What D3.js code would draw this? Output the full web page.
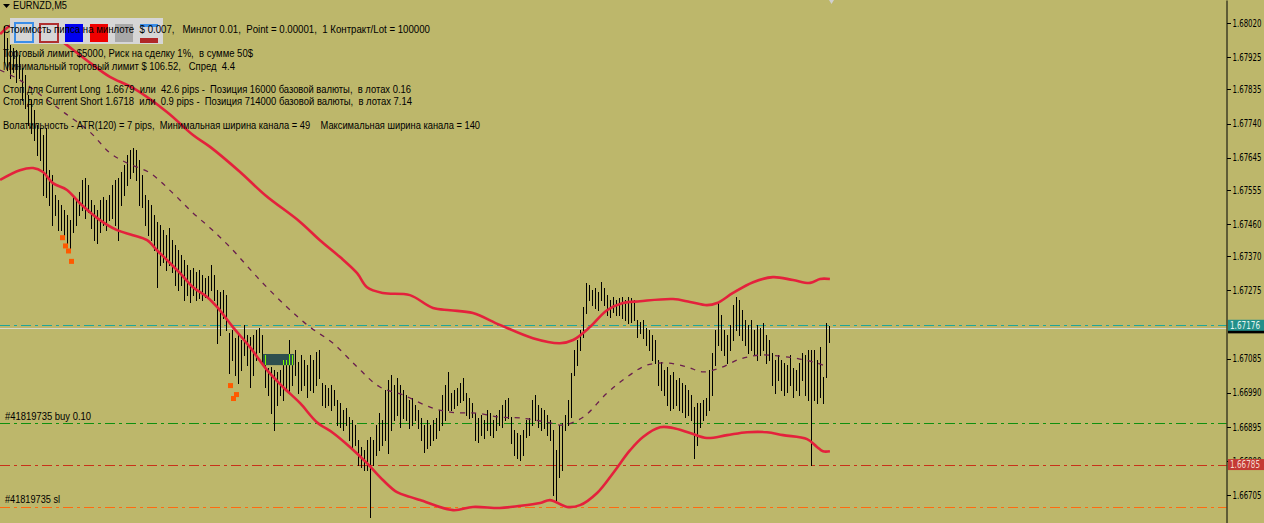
<!DOCTYPE html>
<html><head><meta charset="utf-8">
<script src="https://cdn.jsdelivr.net/npm/d3@7"></script>
<style>html,body{margin:0;padding:0;background:#bdb76b;overflow:hidden}</style>
</head><body><svg id="c" width="1264" height="523"></svg>
<script>
// ---------- DATA ----------
const symbol = "EURNZD,M5";
const highs = [1.68012,1.67978,1.67959,1.67950,1.67945,1.67931,1.67895,1.67875,1.67819,1.67805,
1.67778,1.67736,1.67727,1.67708,1.67727,1.67610,1.67596,1.67541,1.67527,1.67513,
1.67499,1.67485,1.67471,1.67541,1.67527,1.67549,1.67583,1.67588,1.67569,1.67527,
1.67513,1.67499,1.67527,1.67535,1.67527,1.67541,1.67569,1.67583,1.67588,1.67605,
1.67624,1.67652,1.67666,1.67672,1.67666,1.67638,1.67596,1.67541,1.67527,1.67513,
1.67485,1.67466,1.67457,1.67443,1.67429,1.67449,1.67415,1.67401,1.67387,1.67374,
1.67360,1.67346,1.67332,1.67337,1.67326,1.67332,1.67318,1.67310,1.67315,1.67346,
1.67318,1.67276,1.67271,1.67276,1.67262,1.67156,1.67165,1.67142,1.67151,1.67137,
1.67179,1.67151,1.67145,1.67151,1.67165,1.67170,1.67151,1.67095,1.67059,1.67062,
1.67053,1.67048,1.67053,1.67081,1.67081,1.67137,1.67095,1.67109,1.67076,1.67095,
1.67081,1.67067,1.67095,1.67081,1.67103,1.67109,1.67017,1.67011,1.67003,1.67011,
1.66998,1.66970,1.66961,1.66942,1.66947,1.66922,1.66914,1.66900,1.66858,1.66839,
1.66830,1.66858,1.66867,1.66858,1.66900,1.66933,1.66914,1.66998,1.67025,1.67039,
1.67011,1.67031,1.67011,1.66998,1.66984,1.66970,1.66975,1.66956,1.66942,1.66920,
1.66900,1.66914,1.66900,1.66914,1.66920,1.66942,1.66984,1.67011,1.67048,1.66989,
1.66998,1.67003,1.67017,1.67031,1.66989,1.66975,1.66961,1.66933,1.66920,1.66928,
1.66914,1.66942,1.66933,1.66914,1.66928,1.66942,1.66956,1.66970,1.66975,1.66922,
1.66886,1.66878,1.66872,1.66886,1.66914,1.66920,1.66970,1.66984,1.66956,1.66947,
1.66942,1.66928,1.66914,1.66886,1.66830,1.66900,1.66906,1.66928,1.66970,1.67045,
1.67109,1.67137,1.67165,1.67229,1.67296,1.67290,1.67276,1.67282,1.67271,1.67298,
1.67282,1.67262,1.67248,1.67257,1.67248,1.67254,1.67257,1.67248,1.67257,1.67254,
1.67248,1.67193,1.67187,1.67193,1.67170,1.67165,1.67151,1.67137,1.67081,1.67076,
1.67053,1.67062,1.67039,1.67048,1.67025,1.67031,1.67017,1.67011,1.66998,1.66984,
1.66950,1.66961,1.66961,1.66970,1.66975,1.67053,1.67101,1.67165,1.67240,1.67206,
1.67165,1.67151,1.67179,1.67234,1.67257,1.67248,1.67220,1.67193,1.67179,1.67193,
1.67165,1.67179,1.67170,1.67184,1.67151,1.67137,1.67101,1.67081,1.67095,1.67081,
1.67073,1.67067,1.67095,1.67059,1.67053,1.67073,1.67101,1.67095,1.67109,1.67109,
1.67109,1.67081,1.67117,1.67034,1.67184,1.67176];
const lows = [1.67911,1.67889,1.67867,1.67883,1.67856,1.67867,1.67805,1.67783,1.67736,1.67713,
1.67694,1.67652,1.67638,1.67541,1.67535,1.67513,1.67457,1.67485,1.67443,1.67443,
1.67429,1.67401,1.67387,1.67438,1.67457,1.67485,1.67499,1.67477,1.67493,1.67449,
1.67415,1.67407,1.67438,1.67457,1.67443,1.67471,1.67477,1.67457,1.67415,1.67513,
1.67541,1.67569,1.67588,1.67605,1.67583,1.67513,1.67507,1.67457,1.67429,1.67415,
1.67387,1.67284,1.67346,1.67354,1.67332,1.67346,1.67326,1.67290,1.67276,1.67290,
1.67248,1.67262,1.67243,1.67262,1.67248,1.67254,1.67248,1.67257,1.67254,1.67276,
1.67248,1.67128,1.67151,1.67198,1.67165,1.67045,1.67081,1.67039,1.67017,1.67053,
1.67095,1.67067,1.67006,1.67039,1.67081,1.67103,1.67073,1.67006,1.66984,1.66933,
1.66886,1.66956,1.66984,1.66970,1.66998,1.66989,1.67011,1.67039,1.66989,1.66998,
1.67011,1.66978,1.66998,1.66992,1.67011,1.67031,1.66956,1.66950,1.66956,1.66942,
1.66956,1.66900,1.66894,1.66886,1.66900,1.66858,1.66839,1.66844,1.66789,1.66783,
1.66775,1.66775,1.66644,1.66789,1.66816,1.66830,1.66844,1.66858,1.66822,1.66886,
1.66914,1.66928,1.66894,1.66920,1.66914,1.66892,1.66900,1.66914,1.66892,1.66858,
1.66825,1.66836,1.66844,1.66858,1.66864,1.66886,1.66900,1.66914,1.66942,1.66942,
1.66947,1.66956,1.66964,1.66970,1.66928,1.66920,1.66922,1.66858,1.66853,1.66872,
1.66864,1.66886,1.66872,1.66867,1.66886,1.66900,1.66894,1.66914,1.66920,1.66850,
1.66816,1.66808,1.66802,1.66816,1.66867,1.66872,1.66900,1.66914,1.66894,1.66886,
1.66892,1.66872,1.66858,1.66705,1.66691,1.66755,1.66775,1.66886,1.66900,1.66922,
1.67039,1.67067,1.67109,1.67145,1.67212,1.67248,1.67234,1.67226,1.67220,1.67248,
1.67234,1.67206,1.67201,1.67215,1.67206,1.67206,1.67198,1.67193,1.67184,1.67187,
1.67193,1.67145,1.67156,1.67142,1.67123,1.67109,1.67081,1.67073,1.67011,1.66998,
1.66984,1.66956,1.66942,1.66947,1.66956,1.66942,1.66936,1.66922,1.66928,1.66914,
1.66808,1.66844,1.66894,1.66914,1.66928,1.66942,1.66984,1.67067,1.67123,1.67109,
1.67095,1.67073,1.67109,1.67137,1.67165,1.67151,1.67137,1.67123,1.67101,1.67109,
1.67095,1.67081,1.67095,1.67109,1.67073,1.67081,1.67011,1.66989,1.67025,1.66998,
1.66984,1.66992,1.67011,1.66978,1.66998,1.66984,1.67025,1.66984,1.66970,1.66789,
1.66970,1.66961,1.66978,1.66961,1.67034,1.67131];

// channel indicator (bar index, price)
const upperBand = [[-1.3,1.67989],[2,1.68012],[7,1.68026],[12,1.68014],[18.7,1.67973],[28.7,1.67909],
[35.3,1.67870],[43,1.67839],[54.3,1.67772],[63,1.67708],[68.7,1.67675],[78.7,1.67605],[87,1.67541],
[98.7,1.67466],[105.3,1.67415],[112,1.67368],[117.7,1.67323],[121,1.67284],[126.3,1.67268],
[135.3,1.67262],[143,1.67226],[148.7,1.67220],[156.3,1.67212],[165.3,1.67179],[176.3,1.67142],
[185.3,1.67128],[189.7,1.67137],[195.3,1.67173],[201,1.67220],[206.3,1.67240],[212,1.67245],
[223,1.67251],[228.7,1.67243],[234.3,1.67234],[237.7,1.67240],[243,1.67268],[249.7,1.67298],
[256.3,1.67312],[263,1.67304],[268.7,1.67296],[272,1.67307],[275.3,1.67307]];
const lowerBand = [[-1.3,1.67583],[5.3,1.67610],[9.7,1.67616],[13,1.67605],[16.3,1.67574],[21,1.67555],
[25.3,1.67518],[32,1.67471],[37.7,1.67443],[43,1.67429],[47.7,1.67415],[51,1.67387],[54.3,1.67360],
[58.7,1.67323],[63,1.67284],[67.7,1.67257],[71,1.67229],[76.3,1.67173],[82,1.67117],[87.7,1.67053],
[93,1.67006],[98.7,1.66961],[104.3,1.66908],[109.7,1.66878],[115.3,1.66839],[121,1.66794],
[126.3,1.66747],[131,1.66713],[135.3,1.66700],[138.7,1.66691],[149.7,1.66663],[156.3,1.66672],
[165.3,1.66669],[171,1.66674],[178.7,1.66683],[182,1.66691],[187.7,1.66672],[192,1.66677],
[197.7,1.66711],[203,1.66766],[208.7,1.66830],[213,1.66867],[218.7,1.66894],[223,1.66892],
[228.7,1.66878],[234.3,1.66864],[241,1.66872],[247.7,1.66880],[254.3,1.66880],[259.7,1.66872],
[267.7,1.66861],[271,1.66839],[273,1.66827],[275.3,1.66827]];
const middleLine = [[-1.3,1.67889],[5.3,1.67861],[15.3,1.67800],[20.3,1.67769],[28.7,1.67716],
[35.3,1.67658],[41,1.67630],[48.7,1.67602],[56.3,1.67546],[63,1.67491],[68.7,1.67449],[75.3,1.67396],
[85.3,1.67304],[94.3,1.67229],[102,1.67173],[109.7,1.67128],[117.7,1.67062],[125.3,1.67006],
[133,1.66984],[142,1.66950],[148.7,1.66936],[157.7,1.66933],[165.3,1.66922],[172,1.66920],
[181,1.66908],[186.3,1.66900],[193,1.66922],[201,1.66989],[207.7,1.67034],[214.3,1.67067],
[221,1.67073],[227.7,1.67062],[233,1.67048],[238.7,1.67059],[245.3,1.67084],[252,1.67095],
[258.7,1.67092],[265.3,1.67084],[271,1.67073],[274.3,1.67062]];

// signal markers
const markerBars = [19,20,21,22,75,76,77];
const markerPrices = [1.67422,1.67399,1.67385,1.67356,1.67010,1.66974,1.66985];

// rectangle object
const rectBars = [86.3, 96.7];
const rectPrices = [1.67098, 1.67067];

// horizontal levels
const levelNames = ["bid","ask","buy","stop","sl"];
const levelPrices = [1.67178, 1.67171, 1.66905, 1.66790, 1.66673];
const orderLabels = ["#41819735 buy 0.10", "#41819735 sl"];
const bidLabel = "1.67176";
const stopLabel = "1.66785";

// axis ticks (1.67180 lies under the bid label)
const tickValues = [1.68020,1.67925,1.67835,1.67740,1.67645,1.67555,1.67460,1.67370,1.67275,
1.67085,1.66990,1.66895,1.66800,1.66705];

// comment lines
const commentLines = [
 "Стоимость пипса на минлоте  $ 0.007,   Минлот 0.01,  Point = 0.00001,  1 Контракт/Lot = 100000",
 "Торговый лимит $5000, Риск на сделку 1%,  в сумме 50$",
 "Минимальный торговый лимит $ 106.52,   Спред  4.4",
 "Стоп для Current Long  1.6679  или  42.6 pips -  Позиция 16000 базовой валюты,  в лотах 0.16",
 "Стоп для Current Short 1.6718  или  0.9 pips -  Позиция 714000 базовой валюты,  в лотах 7.14",
 "Волатильность - ATR(120) = 7 pips,  Минимальная ширина канала = 49    Максимальная ширина канала = 140"
];

// ---------- DRAW ----------
const W = 1264, H = 523, axisX = 1226.5;
const svg = d3.select("#c");
const FONT = "'Liberation Sans', Arial, sans-serif";
const NARROW = "'Liberation Sans Narrow', 'DejaVu Sans Condensed', 'Liberation Sans', sans-serif";
svg.append("rect").attr("width", W).attr("height", H).attr("fill", "#bdb76b");

const pxPerPrice = 35900;
const y = d3.scaleLinear()
  .domain([1.68020 - (H - 23) / pxPerPrice, 1.68020 + 23 / pxPerPrice])
  .range([H, 0]);
const x = d3.scaleLinear().domain([0, highs.length - 1]).range([4, 829]);

// levels
const levelStyle = {
  bid:  {c:"#1fa59a", dash:"10,4,3,4"},
  ask:  {c:"#d8d8cc", dash:null},
  buy:  {c:"#10900f", dash:"10,4,3,4"},
  stop: {c:"#c8321a", dash:"10,4,3,4"},
  sl:   {c:"#ff6a10", dash:"10,4,3,4"}
};
levelNames.forEach((n, i) => {
  const yy = Math.round(y(levelPrices[i])) + 0.5;
  svg.append("line").attr("x1", 0).attr("x2", axisX).attr("y1", yy).attr("y2", yy)
    .attr("stroke", levelStyle[n].c).attr("stroke-width", 1.2)
    .attr("stroke-dasharray", levelStyle[n].dash);
});

// rectangle object
const rx0 = x(rectBars[0]), rx1 = x(rectBars[1]);
const ry0 = y(rectPrices[0]), ry1 = y(rectPrices[1]);
svg.append("rect").attr("x", rx0).attr("y", ry0).attr("width", rx1 - rx0).attr("height", ry1 - ry0)
  .attr("fill", "#2f4f4f");
svg.append("clipPath").attr("id", "rc").append("rect")
  .attr("x", rx0).attr("y", ry0).attr("width", rx1 - rx0).attr("height", ry1 - ry0);

// bars
function drawBars(g, color) {
  g.selectAll("line").data(highs).join("line")
    .attr("x1", (d, i) => Math.round(x(i)) + 0.5).attr("x2", (d, i) => Math.round(x(i)) + 0.5)
    .attr("y1", d => Math.round(y(d))).attr("y2", (d, i) => Math.round(y(lows[i])) + 1)
    .attr("stroke", color).attr("stroke-width", 1).attr("shape-rendering", "crispEdges");
}
drawBars(svg.append("g"), "#000");
drawBars(svg.append("g").attr("clip-path", "url(#rc)"), "#7cfc00");

// channel
const line = d3.line().x(d => x(d[0])).y(d => y(d[1])).curve(d3.curveCatmullRom);
svg.append("path").attr("d", line(middleLine)).attr("fill", "none")
  .attr("stroke", "#6a1e4e").attr("stroke-width", 1.3).attr("stroke-dasharray", "5,6");
[upperBand, lowerBand].forEach(b => {
  svg.append("path").attr("d", line(b)).attr("fill", "none")
    .attr("stroke", "#e4213c").attr("stroke-width", 2.6).attr("stroke-linejoin", "round");
});

// markers
markerBars.forEach((b, i) => {
  svg.append("rect").attr("x", x(b) + 1.5 - 2.5).attr("y", y(markerPrices[i]) - 2.5)
    .attr("width", 5).attr("height", 5).attr("fill", "#ff5a00");
});

// legend box
const lg = svg.append("g");
lg.append("rect").attr("x", 10).attr("y", 18).attr("width", 153).attr("height", 26).attr("fill", "#d6d6d6");
lg.append("rect").attr("x", 15).attr("y", 23).attr("width", 18).attr("height", 19)
  .attr("fill", "none").attr("stroke", "#3c8ee8").attr("stroke-width", 2);
lg.append("rect").attr("x", 40).attr("y", 24).attr("width", 18).attr("height", 18)
  .attr("fill", "none").attr("stroke", "#b03030").attr("stroke-width", 2);
lg.append("rect").attr("x", 65).attr("y", 24).attr("width", 18).attr("height", 18).attr("fill", "#0000f0");
lg.append("rect").attr("x", 90).attr("y", 24).attr("width", 18).attr("height", 18).attr("fill", "#f00000");
lg.append("rect").attr("x", 115).attr("y", 24).attr("width", 18).attr("height", 18).attr("fill", "#a8a8a8");
lg.append("rect").attr("x", 140).attr("y", 24).attr("width", 18).attr("height", 3).attr("fill", "#3c8ee8");
lg.append("rect").attr("x", 140).attr("y", 38).attr("width", 18).attr("height", 5).attr("fill", "#b02828");

// title
svg.append("path").attr("d", "M3,4 L10,4 L6.5,8 Z").attr("fill", "#000");
svg.append("text").attr("x", 13).attr("y", 6.5).attr("dominant-baseline", "middle")
  .attr("font-family", FONT).attr("font-size", 11).attr("fill", "#000")
  .attr("textLength", 54).attr("lengthAdjust", "spacingAndGlyphs").text(symbol);

// comments
const cY = [30, 54, 67, 90.5, 102.5, 126.5];
const cW = [427, 250, 232, 408, 409, 477];
commentLines.forEach((t, i) => {
  svg.append("text").attr("x", 3).attr("y", cY[i]).attr("dominant-baseline", "middle")
    .attr("font-family", FONT).attr("font-size", 11).attr("fill", "#000")
    .style("white-space", "pre").attr("textLength", cW[i]).attr("lengthAdjust", "spacingAndGlyphs")
    .text(t);
});

// order labels
[[levelPrices[2], orderLabels[0], 86], [levelPrices[4], orderLabels[1], 55]].forEach(([p, t, w]) => {
  svg.append("text").attr("x", 5).attr("y", y(p) - 6).attr("dominant-baseline", "middle")
    .attr("font-family", FONT).attr("font-size", 11).attr("fill", "#000")
    .attr("textLength", w).attr("lengthAdjust", "spacingAndGlyphs").text(t);
});

// axis
const axis = d3.axisRight(y).tickValues(tickValues).tickSize(4).tickSizeOuter(0)
  .tickPadding(2).tickFormat(d3.format(".5f"));
const ag = svg.append("g").attr("transform", `translate(${axisX},0)`).call(axis);
ag.select(".domain").attr("stroke", "#000");
ag.selectAll(".tick line").attr("stroke", "#000").attr("shape-rendering", "crispEdges");
ag.selectAll(".tick text").attr("font-family", NARROW).attr("font-size", 10).attr("fill", "#000")
  .attr("textLength", 29).attr("lengthAdjust", "spacingAndGlyphs");

// price labels
function priceBox(p, label, bg, fg, h) {
  const yy = y(p);
  svg.append("rect").attr("x", 1228).attr("y", yy - h / 2).attr("width", 36).attr("height", h).attr("fill", bg);
  if (label) svg.append("text").attr("x", 1230).attr("y", yy + 0.5).attr("dominant-baseline", "middle")
    .attr("font-family", NARROW).attr("font-size", 10).attr("fill", fg)
    .attr("textLength", 30).attr("lengthAdjust", "spacingAndGlyphs").text(label);
}
priceBox(levelPrices[1] - 0.00003, null, "#000", "#ddd", 9);
priceBox(levelPrices[0], bidLabel, "#22908a", "#e6f4f0", 11);
priceBox(levelPrices[3], stopLabel, "#c43a34", "#f4d8d0", 11);

// chart shift marker
svg.append("path").attr("d", "M829,0 L834,0 L831.5,4 Z").attr("fill", "#d0d0d0");
</script></body></html>
